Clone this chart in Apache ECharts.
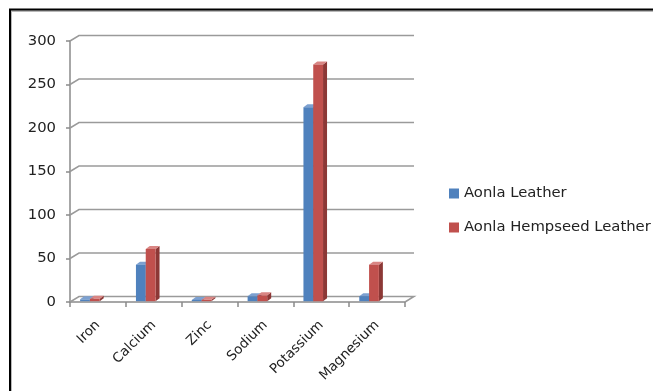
<!DOCTYPE html>
<html>
<head>
<meta charset="utf-8">
<script src="https://cdn.jsdelivr.net/npm/echarts@6/dist/echarts.min.js"></script>
<style>
  html, body { margin: 0; padding: 0; background: #fff; overflow: hidden; }
  #chart { width: 653px; height: 391px; }
</style>
</head>
<body>
<div id="chart"></div>
<script>
// Mineral content of the two leathers
const categories = ['Iron', 'Calcium', 'Zinc', 'Sodium', 'Potassium', 'Magnesium'];
const aonlaLeather = [2.1, 42, 1.5, 5.6, 223, 5.8];
const aonlaHempseedLeather = [2.8, 60, 1.6, 6.8, 272, 42];
const seriesNames = ['Aonla Leather', 'Aonla Hempseed Leather'];
const yTicks = [0, 50, 100, 150, 200, 250, 300];

// pseudo-3D depth of the walls and of the columns
const WALL_DX = 9, WALL_DY = -5.5;
const BAR_DX = 4, BAR_DY = -3;
const BAR_W = 9.8;

const palettes = [
  { front: '#4F81BD', side: '#385D8A', top: '#7CA0D0' },
  { front: '#C0504D', side: '#8C3836', top: '#D98583' }
];

function wallRender(params, api) {
  const cs = params.coordSys;
  const v = api.value(1);
  const p = api.coord([0, v]);
  const left = cs.x, right = cs.x + cs.width;
  const y = p[1];
  const pts = [[left, y], [left + WALL_DX, y + WALL_DY], [right + WALL_DX, y + WALL_DY]];
  if (v === 0) pts.push([right, y]);
  return {
    type: 'polyline',
    shape: { points: pts },
    style: { stroke: '#9a9a9a', lineWidth: 1.5, fill: null },
    silent: true
  };
}

function barRenderer(idx) {
  const pal = palettes[idx];
  return function (params, api) {
    const c = api.value(0);
    const v = api.value(1);
    const base = api.coord([c, 0]);
    const top = api.coord([c, v]);
    const band = api.size([1, 0])[0];
    const x0 = base[0] - band * 0.31 + idx * BAR_W - 0.5;
    const yb = base[1] - 0.8;
    const yt = top[1] - 0.8;
    const x1 = x0 + BAR_W;
    return {
      type: 'group',
      children: [
        { type: 'polygon', shape: { points: [[x1, yt], [x1 + BAR_DX, yt + BAR_DY], [x1 + BAR_DX, yb + BAR_DY], [x1, yb]] },
          style: { fill: pal.side } },
        { type: 'polygon', shape: { points: [[x0, yt], [x0 + BAR_DX, yt + BAR_DY], [x1 + BAR_DX, yt + BAR_DY], [x1, yt]] },
          style: { fill: pal.top } },
        { type: 'rect', shape: { x: x0, y: yt, width: BAR_W, height: yb - yt },
          style: { fill: pal.front } }
      ]
    };
  };
}

const chart = echarts.init(document.getElementById('chart'), null, { renderer: 'canvas' });
chart.setOption({
  animation: false,
  textStyle: { fontFamily: 'DejaVu Sans' },
  graphic: [
    { type: 'polyline', shape: { points: [[11, 400], [11, 11], [653, 11]] }, style: { fill: null, stroke: '#b8b8b8', lineWidth: 2 }, silent: true },
    { type: 'polyline', shape: { points: [[10, 400], [10, 9.5], [653, 9.5]] }, style: { fill: null, stroke: '#000', lineWidth: 2 }, silent: true }
  ],
  grid: { left: 70, right: 248, top: 41, bottom: 89, containLabel: false },
  legend: {
    orient: 'vertical',
    left: 449,
    top: 186,
    padding: 0,
    itemWidth: 10,
    itemHeight: 10,
    itemGap: 19,
    icon: 'rect',
    data: seriesNames,
    textStyle: { fontSize: 14.8, color: '#222', fontFamily: 'DejaVu Sans' }
  },
  xAxis: {
    type: 'category',
    data: categories,
    boundaryGap: true,
    axisLine: { lineStyle: { color: '#8a8a8a', width: 1.5 } },
    axisTick: { show: true, length: 5, interval: 0, lineStyle: { color: '#8a8a8a', width: 1.5 } },
    axisLabel: { rotate: 45, interval: 0, margin: 21, fontSize: 13.5, color: '#222' }
  },
  yAxis: {
    type: 'value',
    min: 0,
    max: 300,
    interval: 50,
    axisLine: { show: true, lineStyle: { color: '#8a8a8a', width: 1.5 } },
    axisTick: { show: true, length: 4, lineStyle: { color: '#8a8a8a', width: 1.5 } },
    axisLabel: { margin: 14, fontSize: 14.8, color: '#222' },
    splitLine: { show: false }
  },
  series: [
    {
      type: 'custom',
      name: 'walls',
      renderItem: wallRender,
      data: yTicks.map(v => [0, v]),
      itemStyle: { color: '#9a9a9a' },
      silent: true,
      z: 1
    },
    {
      type: 'custom',
      name: seriesNames[0],
      renderItem: barRenderer(0),
      data: aonlaLeather.map((v, i) => [i, v]),
      itemStyle: { color: palettes[0].front },
      z: 3
    },
    {
      type: 'custom',
      name: seriesNames[1],
      renderItem: barRenderer(1),
      data: aonlaHempseedLeather.map((v, i) => [i, v]),
      itemStyle: { color: palettes[1].front },
      z: 4
    }
  ]
});
</script>
</body>
</html>
